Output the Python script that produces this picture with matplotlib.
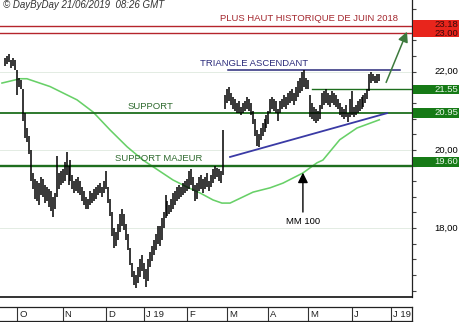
import matplotlib
matplotlib.use('Agg')
import matplotlib.pyplot as plt
import matplotlib.transforms as mtrans
from matplotlib.patches import Rectangle
import numpy as np

plt.rcParams['font.family'] = ['Liberation Sans', 'DejaVu Sans']

# ---------------- data ----------------
first_day = -6  # trading-day index of first bar (Oct 1 2018 = 0)
highs = [
    22.35, 22.40, 22.45, 22.30, 22.35, 22.30,
    22.05, 21.85, 21.80, 21.55, 20.95, 20.55, 20.35, 20.00, 19.40,
    19.25, 19.20, 19.15, 19.30, 19.25, 19.10, 19.05, 19.00, 18.95, 18.80, 18.90,
    19.85, 19.40, 19.45, 19.50, 19.70, 19.95, 19.60, 19.75, 19.35,
    19.20, 19.25, 19.30, 19.20, 19.05, 18.95, 18.80, 18.75, 18.95, 18.90,
    19.00, 19.05, 19.10, 19.15, 19.05, 19.20, 19.45, 19.05,
    18.75, 18.40, 18.00, 17.90,
    18.10, 18.35, 18.50, 18.35, 18.10,
    17.85, 17.50, 17.10, 16.90, 16.80,
    17.00, 17.20, 17.30, 17.10, 16.95, 17.20,
    17.40, 17.55, 17.70, 17.85, 18.05, 18.05, 18.25, 18.40,
    18.85, 18.70, 18.60, 18.75, 18.90, 18.95, 19.05, 19.10, 19.05, 19.15, 19.20,
    19.25, 19.45, 19.50, 19.30, 19.10, 19.15,
    19.30, 19.35, 19.25, 19.30, 19.40, 19.20, 19.35, 19.50, 19.60, 19.55, 19.50, 19.45,
    20.50,
    21.40, 21.55, 21.60, 21.45, 21.35,
    21.30, 21.20, 21.25, 21.10, 21.20, 21.25, 21.35, 21.30, 21.20,
    21.00, 20.80, 20.50, 20.40, 20.55,
    20.70, 20.80, 20.90, 21.00,
    21.30, 21.35, 21.30, 21.25, 21.05,
    21.25, 21.30, 21.40, 21.35, 21.45, 21.50, 21.55, 21.45, 21.60,
    21.75, 21.85, 22.00, 22.05, 21.85, 21.80,
    21.40, 21.20,
    21.10, 21.05, 21.00, 21.15,
    21.45, 21.50, 21.55, 21.45, 21.40, 21.50, 21.45, 21.40, 21.30,
    21.20, 21.10, 21.05, 21.15, 20.95,
    21.30, 21.50, 21.10,
    21.15, 21.25, 21.30, 21.35, 21.40, 21.45, 21.55,
    21.95, 22.00, 21.95, 21.90, 21.95, 21.95,
]
lows = [
    22.15, 22.20, 22.25, 22.10, 22.15, 22.05,
    21.40, 21.60, 21.55, 20.75, 20.30, 20.20, 19.90, 19.20, 19.00,
    18.75, 18.70, 18.60, 18.85, 18.80, 18.65, 18.70, 18.55, 18.45, 18.28, 18.50,
    18.80, 19.00, 19.10, 19.15, 19.20, 19.35, 19.10, 19.20, 19.00,
    18.90, 18.95, 18.90, 18.85, 18.70, 18.60, 18.50, 18.48, 18.60, 18.65,
    18.70, 18.75, 18.85, 18.90, 18.80, 18.90, 19.00, 18.65,
    18.30, 17.80, 17.50, 17.55,
    17.70, 17.90, 18.05, 17.95, 17.70,
    17.45, 17.05, 16.75, 16.55, 16.48,
    16.60, 16.75, 16.90, 16.70, 16.50, 16.65,
    17.00, 17.15, 17.30, 17.45, 17.60, 17.55, 17.70, 18.00,
    18.25, 18.30, 18.35, 18.40, 18.50, 18.60, 18.70, 18.75, 18.80, 18.85, 18.90,
    18.95, 19.00, 19.10, 18.95, 18.70, 18.75,
    18.95, 19.00, 18.90, 19.00, 19.05, 18.95, 19.05, 19.15, 19.25, 19.30, 19.20, 19.15,
    19.35,
    21.05, 21.20, 21.25, 21.15, 21.05,
    21.00, 20.95, 20.95, 20.90, 20.95, 21.00, 21.05, 21.00, 20.90,
    20.65, 20.35, 20.10, 20.08, 20.25,
    20.35, 20.45, 20.55, 20.65,
    20.95, 21.05, 21.00, 20.95, 20.75,
    20.95, 21.05, 21.10, 21.05, 21.15, 21.20, 21.25, 21.15, 21.25,
    21.35, 21.45, 21.50, 21.60, 21.55, 21.55,
    20.85, 20.80,
    20.75, 20.70, 20.75, 20.80,
    21.05, 21.15, 21.20, 21.15, 21.10, 21.20, 21.15, 21.10, 21.05,
    20.90, 20.85, 20.80, 20.85, 20.72,
    20.85, 20.90, 20.85,
    20.90, 20.95, 21.00, 21.05, 21.10, 21.20, 21.30,
    21.50, 21.70, 21.75, 21.70, 21.70, 21.75,
]

ma_days = [-7.6, 1.5, 5, 16.7, 30.3, 38.4, 47, 55.6, 63.6, 67.2, 78.8, 85.9, 92.4,
           99, 103.5, 107.6, 119.2, 127.8, 134.3, 144.4, 151.5, 154.5, 163, 171.7, 183]
ma_vals = [21.71, 21.82, 21.82, 21.62, 21.28, 20.97, 20.51, 20.08, 19.74, 19.62, 19.23,
           19.05, 18.90, 18.72, 18.64, 18.64, 18.92, 19.03, 19.15, 19.41, 19.67, 19.74,
           20.26, 20.56, 20.77]

month_starts = [0, 23, 45, 64, 86, 106, 127, 147, 169, 189]
month_labels = ["O", "N", "D", "J 19", "F", "M", "A", "M", "J", "J 19"]

record_high = 23.18
record_level = 23.00
support_top = 21.55
support = 20.95
major_support = 19.60
triangle_top = 22.04
axis_labels = [22.0, 20.0, 18.0]

# ---------------- figure ----------------
W, H = 460, 322
fig = plt.figure(figsize=(W / 100, H / 100), dpi=100)
ax = fig.add_axes([0, 25 / H, 412 / W, 297 / H])
xmin, xmax = -8.6, 199.5
ax.set_xlim(xmin, xmax)
ax.set_ylim(16.238, 23.834)

for s in ['left', 'top']:
    ax.spines[s].set_visible(False)
ax.spines['right'].set_color('#222222')
ax.spines['right'].set_linewidth(0.9)
ax.spines['bottom'].set_color('#111111')
ax.spines['bottom'].set_linewidth(1.2)
ax.set_xticks([])
ax.yaxis.tick_right()
ax.set_yticks(np.arange(16.4, 23.81, 0.4))
ax.set_yticklabels([])
ax.tick_params(axis='y', direction='out', length=3, width=0.8, color='#444444')

# faint grid
for v in axis_labels:
    ax.axhline(v, color='#e3ece3', lw=0.7, zorder=0)

# moving average
ax.plot(ma_days, ma_vals, color='#68d068', lw=1.15, zorder=2)

# horizontal levels
ax.axhline(record_high, color='#b5242c', lw=1.0, zorder=3)
ax.axhline(record_level, color='#b5242c', lw=1.0, zorder=3)
ax.axhline(support, color='#1e6e1e', lw=1.3, zorder=3)
ax.axhline(major_support, color='#1e6e1e', lw=1.7, zorder=3)
ax.plot([149, xmax], [support_top, support_top], color='#1e6e1e', lw=1.0, zorder=3)
ax.plot([106.6, 193.4], [triangle_top, triangle_top], color='#2a2a7a', lw=1.1, zorder=3)
ax.plot([107.6, 186.9], [19.82, 20.94], color='#3a3aa5', lw=1.3, zorder=3)

# price bars
t = np.arange(first_day, first_day + len(highs))
ax.vlines(t, lows, highs, color='black', lw=1.1, zorder=4)

# arrows
ax.annotate('', xy=(197.5, 23.09), xytext=(185.9, 21.66),
            arrowprops=dict(arrowstyle='-|>,head_length=0.6,head_width=0.3',
                            color='#3d7a3d', lw=1.1), zorder=5)
ax.annotate('', xy=(144.4, 19.49), xytext=(144.4, 18.34),
            arrowprops=dict(arrowstyle='-|>,head_length=0.6,head_width=0.3',
                            color='black', lw=1.0), zorder=5)

# texts
fs = 6.8
ax.text(102.5, 23.37, 'PLUS HAUT HISTORIQUE DE JUIN 2018', color='#a3262d',
        fontsize=fs, va='center', ha='left')
ax.text(92.4, 22.22, 'TRIANGLE ASCENDANT', color='#2a2a7a', fontsize=fs,
        va='center', ha='left')
ax.text(56, 21.12, 'SUPPORT', color='#2e6a2e', fontsize=fs, va='center', ha='left')
ax.text(49.5, 19.78, 'SUPPORT MAJEUR', color='#2e6a2e', fontsize=fs,
        va='center', ha='left')
ax.text(144.4, 18.16, 'MM 100', color='black', fontsize=fs, va='center', ha='center')

fig.text(3 / W, 1 - 5.5 / H, '\u00a9 DayByDay 21/06/2019  08:26 GMT', style='italic',
         color='#333333', fontsize=7.0, va='center', ha='left')

# right side labels
trans = mtrans.blended_transform_factory(fig.transFigure, ax.transData)
for v in axis_labels:
    ax.text(458 / W, v, f'{v:.2f}'.replace('.', ','), transform=trans, fontsize=fs,
            ha='right', va='center', color='black', clip_on=False)

boxes = [
    (record_high, 23.32, 23.10, '#e8251c', '#3a0a0a'),
    (record_level, 23.08, 22.88, '#e8251c', '#3a0a0a'),
    (support_top, 21.66, 21.42, '#167a16', '#e6f5e6'),
    (support, 21.07, 20.82, '#167a16', '#e6f5e6'),
    (major_support, 19.83, 19.57, '#167a16', '#e6f5e6'),
]
for val, top, bot, fc, tc in boxes:
    r = Rectangle((413.5 / W, bot), (W - 413.5) / W, top - bot, transform=trans,
                  facecolor=fc, edgecolor='none', clip_on=False, zorder=6)
    ax.add_patch(r)
    ax.text(458 / W, (top + bot) / 2, f'{val:.2f}', transform=trans, fontsize=fs,
            ha='right', va='center', color=tc, clip_on=False, zorder=7)

# date bar
dax = fig.add_axes([0, 1 / H, 412 / W, (321 - 306.7) / H])
dax.set_xlim(xmin, xmax)
dax.set_ylim(0, 1)
dax.set_xticks([])
dax.set_yticks([])
dax.spines['left'].set_visible(False)
for s in ['top', 'bottom', 'right']:
    dax.spines[s].set_color('#222222')
    dax.spines[s].set_linewidth(0.9)
for m, lab in zip(month_starts, month_labels):
    dax.axvline(m, color='#333333', lw=0.8)
    dax.text(m + 1.0, 0.45, lab, fontsize=fs, va='center', ha='left', color='#222222')

fig.savefig('out.png', dpi=100)
